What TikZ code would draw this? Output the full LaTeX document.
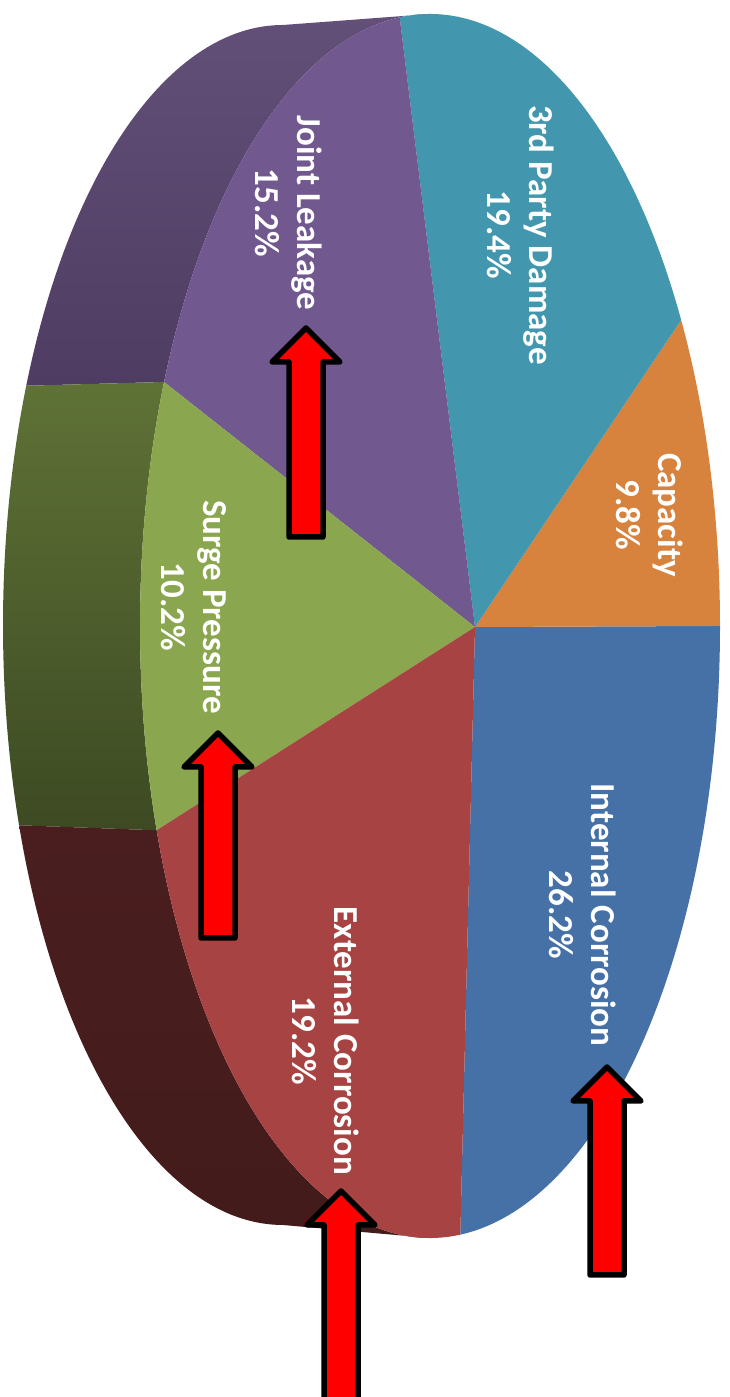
\documentclass[tikz,border=0pt]{standalone}
\usepackage{fontspec}
\setmainfont{Carlito}
\definecolor{cInt}{HTML}{4671A6}
\definecolor{cCap}{HTML}{D7823D}
\definecolor{cThird}{HTML}{4297AE}
\definecolor{cJoint}{HTML}{71588F}
\definecolor{cSurge}{HTML}{8AA64E}
\definecolor{cExt}{HTML}{A74443}
\definecolor{sPurpA}{HTML}{635079}
\definecolor{sPurpB}{HTML}{4E3C62}
\definecolor{sGreenA}{HTML}{5F7236}
\definecolor{sGreenB}{HTML}{3D4A23}
\definecolor{sRedA}{HTML}{4A1E1E}
\definecolor{sRedB}{HTML}{431B1B}
\begin{document}
\begin{tikzpicture}[x=1pt,y=1pt,
  lbl/.style={text=white, font=\bfseries\fontsize{35}{42}\selectfont, align=center, rotate=-90, inner sep=0pt},
  arrowbody/.style={fill=red, draw=black, line width=5.5pt, line join=round},
  pics/redarrow/.style={code={\draw[arrowbody] (0,0) -- (34,-34) -- (17,-34) -- (17,-#1) -- (-17,-#1) -- (-17,-34) -- (-34,-34) -- cycle;}}]
\useasboundingbox (0,0) rectangle (729,1397);
\clip (0,0) rectangle (729,1397);
\fill[white] (0,0) rectangle (729,1397);
\coordinate (B) at (283,772);
\coordinate (F) at (430,771);
\coordinate (O) at (475,770);
% side walls
\shade[top color=sPurpA, bottom color=sPurpB]
  ([shift={(90:280 and 600)}]B) arc[start angle=90,end angle=156.5,x radius=280,y radius=600]
  -- ([shift={(156.5:290 and 612)}]F) arc[start angle=156.5,end angle=90,x radius=290,y radius=612] -- cycle;
\shade[top color=sGreenA, bottom color=sGreenB]
  ([shift={(156.5:280 and 600)}]B) arc[start angle=156.5,end angle=199.5,x radius=280,y radius=600]
  -- ([shift={(199.5:290 and 612)}]F) arc[start angle=199.5,end angle=156.5,x radius=290,y radius=612] -- cycle;
\shade[top color=sRedA, bottom color=sRedB]
  ([shift={(199.5:280 and 600)}]B) arc[start angle=199.5,end angle=270,x radius=280,y radius=600]
  -- ([shift={(270:290 and 612)}]F) arc[start angle=270,end angle=199.5,x radius=290,y radius=612] -- cycle;
% top face slices
\fill[cInt] (O) -- ([shift={(276:290 and 612)}]F) arc[start angle=276,end angle=360,x radius=290,y radius=612] -- cycle;
\fill[cCap] (O) -- ([shift={(0:290 and 612)}]F) arc[start angle=0,end angle=30,x radius=290,y radius=612] -- cycle;
\fill[cThird] (O) -- ([shift={(30:290 and 612)}]F) arc[start angle=30,end angle=96,x radius=290,y radius=612] -- cycle;
\fill[cJoint] (O) -- ([shift={(96:290 and 612)}]F) arc[start angle=96,end angle=156.5,x radius=290,y radius=612] -- cycle;
\fill[cSurge] (O) -- ([shift={(156.5:290 and 612)}]F) arc[start angle=156.5,end angle=199.5,x radius=290,y radius=612] -- cycle;
\fill[cExt] (O) -- ([shift={(199.5:290 and 612)}]F) arc[start angle=199.5,end angle=276,x radius=290,y radius=612] -- cycle;
% labels
\node[lbl] (joint) at (289,1184) {Joint Leakage\\15.2\%};
\node[lbl] (third) at (521,1162) {3rd Party Damage\\19.4\%};
\node[lbl] (cap) at (650,882) {Capacity\\9.8\%};
\node[lbl] (surge) at (194,790) {Surge Pressure\\10.2\%};
\node[lbl] (int) at (583,482) {Internal Corrosion\\26.2\%};
\node[lbl] (ext) at (326,356) {External Corrosion\\19.2\%};
% arrows
\pic (a1) at (306,1069) {redarrow=209};
\pic (a2) at (218,664) {redarrow=205};
\pic (a3) at (341,206) {redarrow=260};
\pic (a4) at (607,330) {redarrow=208};
\end{tikzpicture}
\end{document}
